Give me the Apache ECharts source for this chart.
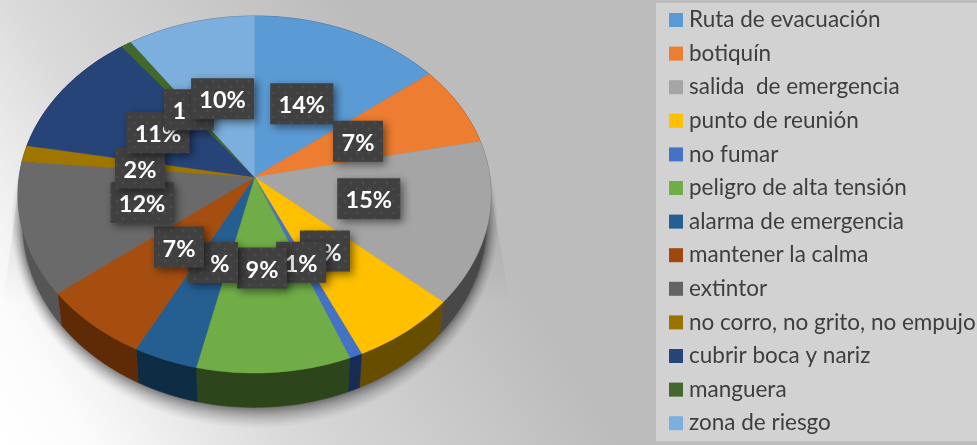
<!DOCTYPE html>
<html>
<head>
<meta charset="utf-8">
<style>html,body{margin:0;padding:0;background:#fff}#c{width:977px;height:445px}</style>
<script src="https://cdn.jsdelivr.net/npm/echarts@6/dist/echarts.min.js"></script>
</head>
<body>
<div id="c"></div>
<script>
const categories = ["Ruta de evacuación","botiquín","salida  de emergencia","punto de reunión","no fumar","peligro de alta tensión","alarma de emergencia","mantener la calma","extintor","no corro, no grito, no empujo","cubrir boca y nariz","manguera","zona de riesgo"];
const shares = [14.4,7.3,14.8,6.7,0.8,9.6,4.0,6.8,12.0,1.5,11.7,0.8,9.6];
const shownPercents = [14,7,15,7,1,9,4,7,12,2,11,1,10];
// What stays readable of each label where a neighbour box overlaps it: {h|..} is covered
const labelMarkup = ["14%","7%","15%","{h|7}{v|%}","1%","9%","{h|4}{v|%}","7%","12%","2%","11%","{v|1}{h|%}","10%"];
const legendColors = ["#5b9bd5","#ed7d31","#a5a5a5","#ffc000","#4472c4","#70ad47","#255e91","#9e480e","#636363","#997300","#264478","#43682b","#7cafdd"];
const topColors = ["#5b9bd5","#ed7d31","#a5a5a5","#ffc000","#4472c4","#70ad47","#255e91","#a54e10","#6a6a6a","#9e7600","#264478","#43682b","#7cafdd"];
const sideColors = ["#24405a","#5f3214","#484848","#664d00","#172b55","#2c451b","#0f2c45","#5f2b06","#555555","#3d2e00","#0f1b30","#1b2a11","#324659"];
const labelNudgeX = [-2,-1,-1,-2.5,-1.6,-1.8,1,2.5,2,1.4,1.3,1,1.5];
const labelNudgeY = [3,1,-1,0,0,-1.7,-1.4,-0.7,0,2.8,0.8,1.6,2.3];

// Projection of the tilted pie: apex, half-axes, perspective factor
const AX = 254.5, AY = 177, BX = 235.4, BY = 176.8, K = -0.098;
const LABEL_RADIUS = 0.5;
const LABEL_FONT = 'bold 23.5px Lato';
function project(theta, f) {
  const u = Math.sin(theta) * f, v = -Math.cos(theta) * f, d = 1 + K * v;
  return [AX + BX * u / d, AY + BY * v / d];
}
function lower(p) {
  return [AX + (p[0] - AX) * 0.98, p[1] + 28.5 + (p[1] - AY) * 0.03];
}
function arcPoints(a0, a1) {
  const n = Math.max(2, Math.ceil((a1 - a0) / (Math.PI / 180)));
  const pts = [];
  for (let i = 0; i <= n; i++) pts.push(project(a0 + (a1 - a0) * i / n, 1));
  return pts;
}
const total = shares.reduce((a, b) => a + b, 0);
function makeDots() {
  const c = document.createElement('canvas');
  c.width = 12; c.height = 12;
  const g = c.getContext('2d');
  g.fillStyle = '#404040'; g.fillRect(0, 0, 12, 12);
  g.fillStyle = '#4b4b4b';
  [[3, 3], [9, 9]].forEach(p => { g.beginPath(); g.arc(p[0], p[1], 1.4, 0, 7); g.fill(); });
  return c;
}
const dots = makeDots();
let running = 0;
const sliceSeries = categories.map((name, i) => {
  const start = running; running += shares[i];
  const end = running;
  return {
    type: 'custom', name, coordinateSystem: 'none', silent: true,
    itemStyle: { color: legendColors[i] },
    data: [[start, end, shownPercents[i]]],
    renderItem: function (params, api) {
      const a0 = api.value(0) / total * 2 * Math.PI, a1 = api.value(1) / total * 2 * Math.PI;
      const rim = arcPoints(a0, a1);
      const side = rim.concat(rim.map(lower).reverse());
      const c = project((a0 + a1) / 2, LABEL_RADIUS);
      const cx = c[0] + labelNudgeX[i], cy = c[1] + labelNudgeY[i];
      const w = api.value(2) >= 10 ? 63 : 50, h = 41;
      return {
        type: 'group', children: [
          { type: 'polygon', z2: 1, shape: { points: side }, style: { fill: sideColors[i], stroke: sideColors[i], lineWidth: 0.5 } },
          { type: 'polygon', z2: 2, shape: { points: [[AX, AY]].concat(rim) }, style: { fill: topColors[i], stroke: topColors[i], lineWidth: 0.5 } },
          { type: 'rect', z2: 10 + i * 2, shape: { x: cx - w / 2, y: cy - h / 2, width: w, height: h },
            style: { fill: { image: dots, repeat: 'repeat' }, shadowBlur: 9, shadowOffsetX: 3, shadowOffsetY: 3, shadowColor: 'rgba(0,0,0,0.5)' } },
          { type: 'text', z2: 11 + i * 2, style: { x: cx, y: cy + 2, text: labelMarkup[i], fill: '#fff', align: 'center', verticalAlign: 'middle', font: LABEL_FONT,
            rich: { h: { fill: 'rgba(0,0,0,0)', font: LABEL_FONT }, v: { fill: '#fff', font: LABEL_FONT } } } }
        ]
      };
    }
  };
});
const shadowSeries = {
  type: 'custom', name: 'sombra', coordinateSystem: 'none', silent: true, data: [[0]],
  renderItem: function () {
    const ring = arcPoints(0, 2 * Math.PI).map(lower);
    const tr = [[AX - 236, 190], [AX + 236, 190], [AX + 256, 305], [AX - 252, 305]];
    const children = [
      { type: 'polygon', z2: -30, shape: { points: tr },
        style: { fill: { type: 'linear', x: 0, y: 190, x2: 0, y2: 305, global: true, colorStops: [{ offset: 0, color: 'rgba(0,0,0,0.10)' }, { offset: 1, color: 'rgba(0,0,0,0)' }] } } }
    ];
    for (let e = 20; e >= 1; e--) {
      const t = e / 20;
      children.push({ type: 'polygon', z2: -e, shape: { points: ring.map(p => [AX + (p[0] - AX) * (1 + 0.05 * t), 220 + (p[1] - 220) * (1 + 0.11 * t)]) },
        style: { fill: 'rgba(0,0,0,' + (0.012 + 0.05 * (1 - t) * (1 - t)) + ')' } });
    }
    return { type: 'group', children };
  }
};
const chart = echarts.init(document.getElementById('c'), null, { renderer: 'canvas' });
chart.setOption({
  animation: false,
  backgroundColor: { type: 'linear', x: 0, y: 445, x2: 560, y2: 100, global: true,
    colorStops: [{ offset: 0, color: '#ffffff' }, { offset: 0.12, color: '#fbfbfb' }, { offset: 0.22, color: '#eeeeee' }, { offset: 0.38, color: '#d9d9d9' }, { offset: 0.8, color: '#bcbcbc' }, { offset: 1, color: '#bcbcbc' }] },
  legend: {
    orient: 'vertical', left: 656, top: 3, selectedMode: false,
    data: categories, icon: 'rect', itemWidth: 14, itemHeight: 14, itemGap: 9.6,
    padding: [5, 2, 6, 13], backgroundColor: '#d2d2d2',
    textStyle: { color: '#3e3e3e', fontFamily: 'Lato', fontSize: 22.5, lineHeight: 24, padding: [0, 0, 0, 1] }
  },
  series: [shadowSeries].concat(sliceSeries)
});
</script>
</body>
</html>
